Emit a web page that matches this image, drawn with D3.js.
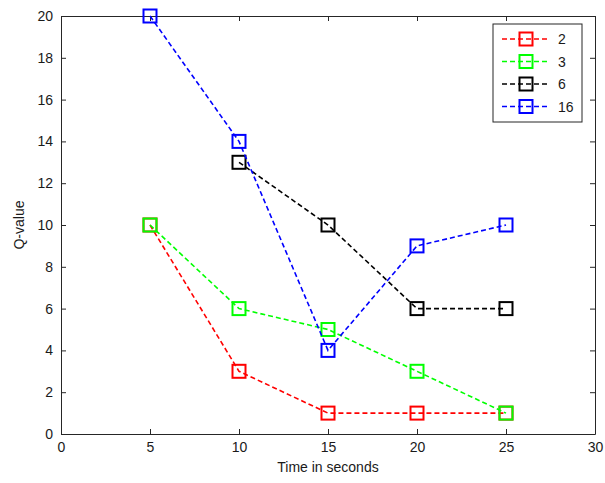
<!DOCTYPE html>
<html>
<head>
<meta charset="utf-8">
<script src="https://cdn.jsdelivr.net/npm/d3@7"></script>
<style>
body { margin: 0; background: #fff; }
text { font-family: "Liberation Sans", Arial, sans-serif; }
</style>
</head>
<body>
<div class="chart"></div>
<script>
var seriesNames = ["2", "3", "6", "16"];
var seriesColors = ["#ff0000", "#00ff00", "#000000", "#0000ff"];
var xValues2 = [5, 10, 15, 20, 25];
var yValues2 = [10, 3, 1, 1, 1];
var xValues3 = [5, 10, 15, 20, 25];
var yValues3 = [10, 6, 5, 3, 1];
var xValues6 = [10, 15, 20, 25];
var yValues6 = [13, 10, 6, 6];
var xValues16 = [5, 10, 15, 20, 25];
var yValues16 = [20, 14, 4, 9, 10];
var xTicks = [0, 5, 10, 15, 20, 25, 30];
var yTicks = [0, 2, 4, 6, 8, 10, 12, 14, 16, 18, 20];

var series = [
    { name: seriesNames[0], color: seriesColors[0], xs: xValues2, ys: yValues2 },
    { name: seriesNames[1], color: seriesColors[1], xs: xValues3, ys: yValues3 },
    { name: seriesNames[2], color: seriesColors[2], xs: xValues6, ys: yValues6 },
    { name: seriesNames[3], color: seriesColors[3], xs: xValues16, ys: yValues16 }
];

var width = 605, height = 483;
var margin = { left: 61, right: 10, top: 16, bottom: 49 };

var svg = d3.select(".chart").append("svg")
    .attr("width", width)
    .attr("height", height);

var x = d3.scaleLinear().domain([0, 30]).range([margin.left, width - margin.right]);
var y = d3.scaleLinear().domain([0, 20]).range([height - margin.bottom, margin.top]);

var axisColor = "#262626";
var tickLen = 5;

// axes, ticks pointing inward like matlab
var gx = svg.append("g")
    .attr("transform", "translate(0," + y(0) + ")")
    .call(d3.axisBottom(x).tickValues(xTicks).tickSizeInner(-tickLen).tickSizeOuter(0).tickPadding(8));
var gy = svg.append("g")
    .attr("transform", "translate(" + x(0) + ",0)")
    .call(d3.axisLeft(y).tickValues(yTicks).tickSizeInner(-tickLen).tickSizeOuter(0).tickPadding(8));
var gxTop = svg.append("g")
    .attr("transform", "translate(0," + y(20) + ")")
    .call(d3.axisTop(x).tickValues(xTicks).tickSizeInner(-tickLen).tickSizeOuter(0).tickFormat(""));
var gyRight = svg.append("g")
    .attr("transform", "translate(" + x(30) + ",0)")
    .call(d3.axisRight(y).tickValues(yTicks).tickSizeInner(-tickLen).tickSizeOuter(0).tickFormat(""));

[gx, gy, gxTop, gyRight].forEach(function (g) {
    g.selectAll("path").attr("stroke", axisColor).attr("stroke-width", 1);
    g.selectAll("line").attr("stroke", axisColor).attr("stroke-width", 1);
    g.selectAll("text").attr("fill", "#1a1a1a").style("font-size", "14px");
});

svg.append("text")
    .attr("x", (x(0) + x(30)) / 2)
    .attr("y", 472)
    .attr("text-anchor", "middle")
    .attr("fill", "#1a1a1a")
    .style("font-size", "14px")
    .text("Time in seconds");

svg.append("text")
    .attr("transform", "translate(24," + ((y(0) + y(20)) / 2) + ") rotate(-90)")
    .attr("text-anchor", "middle")
    .attr("fill", "#1a1a1a")
    .style("font-size", "14px")
    .text("Q-value");

var line = d3.line()
    .x(function (d) { return x(d[0]); })
    .y(function (d) { return y(d[1]); });

var markerSize = 13;

series.forEach(function (s) {
    var pts = s.xs.map(function (v, i) { return [v, s.ys[i]]; });
    var g = svg.append("g");
    g.append("path")
        .datum(pts)
        .attr("d", line)
        .attr("fill", "none")
        .attr("stroke", s.color)
        .attr("stroke-width", 1.6)
        .attr("stroke-dasharray", "5,3");
    g.selectAll("rect")
        .data(pts)
        .enter().append("rect")
        .attr("x", function (d) { return x(d[0]) - markerSize / 2; })
        .attr("y", function (d) { return y(d[1]) - markerSize / 2; })
        .attr("width", markerSize)
        .attr("height", markerSize)
        .attr("fill", "none")
        .attr("stroke", s.color)
        .attr("stroke-width", 2);
});

// legend
var legend = svg.append("g").attr("transform", "translate(493,24)");
legend.append("rect")
    .attr("x", 0).attr("y", 0)
    .attr("width", 89).attr("height", 98)
    .attr("fill", "#fff")
    .attr("stroke", axisColor)
    .attr("stroke-width", 1);

var rows = legend.selectAll(".row")
    .data(series)
    .enter().append("g")
    .attr("class", "row")
    .attr("transform", function (d, i) { return "translate(0," + (15 + i * 22.5) + ")"; });
rows.append("line")
    .attr("x1", 9).attr("x2", 56)
    .attr("y1", 0).attr("y2", 0)
    .attr("stroke", function (d) { return d.color; })
    .attr("stroke-width", 1.6)
    .attr("stroke-dasharray", "5,3");
rows.append("rect")
    .attr("x", 33 - markerSize / 2).attr("y", -markerSize / 2)
    .attr("width", markerSize).attr("height", markerSize)
    .attr("fill", "none")
    .attr("stroke", function (d) { return d.color; })
    .attr("stroke-width", 2);
rows.append("text")
    .attr("x", 65).attr("y", 5)
    .attr("fill", "#1a1a1a")
    .style("font-size", "14px")
    .text(function (d) { return d.name; });
</script>
</body>
</html>
